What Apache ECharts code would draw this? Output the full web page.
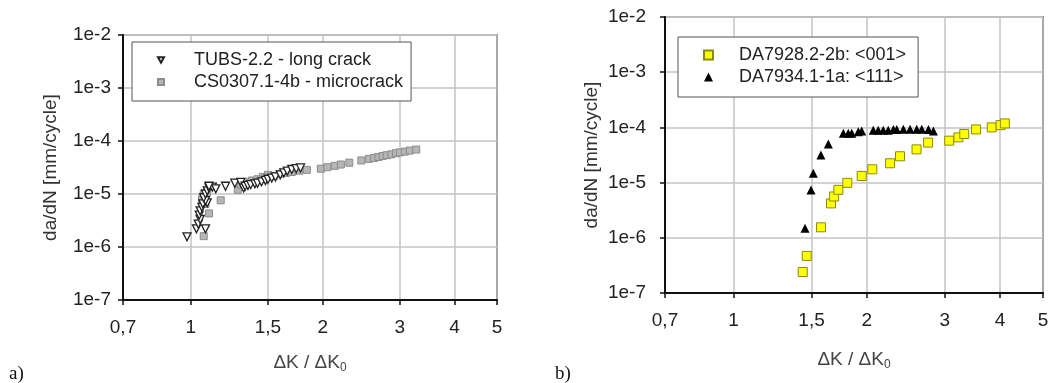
<!DOCTYPE html>
<html>
<head>
<meta charset="utf-8">
<script src="https://cdn.jsdelivr.net/npm/echarts@6/dist/echarts.min.js"></script>
<style>
  html, body { margin: 0; padding: 0; background: #fff; }
  #chart { width: 1053px; height: 383px; }
</style>
</head>
<body>
<div id="chart"></div>
<script>
// tick labels shared by both panels
const xTicks = [0.7, 1, 1.5, 2, 3, 4, 5]
const yMin = 1e-7
const yMax = 1e-2

// panel a) -- [dK/dK0, da/dN]
const tubsLong = [
  [0.98, 1.55e-6], [1.03, 2.2e-6], [1.04, 2.7e-6], [1.08, 2.2e-6], [1.05, 3.3e-6],
  [1.045, 4.0e-6], [1.05, 4.8e-6], [1.06, 5.6e-6], [1.065, 6.5e-6], [1.09, 6.8e-6],
  [1.08, 7.5e-6], [1.07, 8.5e-6], [1.08, 1.0e-5], [1.09, 1.15e-5], [1.1, 1.3e-5],
  [1.12, 1.35e-5], [1.14, 1.25e-5], [1.1, 1.4e-5], [1.2, 1.4e-5], [1.26, 1.6e-5],
  [1.3, 1.65e-5], [1.32, 1.3e-5], [1.33, 1.4e-5], [1.35, 1.45e-5], [1.37, 1.5e-5],
  [1.4, 1.55e-5], [1.42, 1.6e-5], [1.45, 1.7e-5], [1.48, 1.8e-5], [1.5, 1.9e-5],
  [1.53, 2.0e-5], [1.56, 2.1e-5], [1.6, 2.3e-5], [1.63, 2.5e-5], [1.66, 2.7e-5],
  [1.7, 2.9e-5], [1.74, 3.0e-5], [1.78, 3.1e-5]
]
const csMicro = [
  [1.07, 1.6e-6], [1.1, 4.3e-6], [1.08, 6.5e-6], [1.06, 8e-6], [1.07, 1.0e-5],
  [1.09, 1.1e-5], [1.17, 7.6e-6], [1.28, 1.2e-5], [1.3, 1.5e-5], [1.34, 1.7e-5],
  [1.38, 1.8e-5], [1.42, 1.9e-5], [1.46, 2.1e-5], [1.5, 2.3e-5], [1.55, 2.2e-5],
  [1.6, 2.4e-5], [1.65, 2.5e-5], [1.7, 2.6e-5], [1.77, 2.75e-5], [1.84, 2.85e-5],
  [1.98, 3.0e-5], [2.05, 3.2e-5], [2.13, 3.4e-5], [2.2, 3.6e-5], [2.3, 3.9e-5],
  [2.45, 4.3e-5], [2.55, 4.6e-5], [2.62, 4.8e-5], [2.68, 5.0e-5], [2.74, 5.2e-5],
  [2.8, 5.4e-5], [2.87, 5.6e-5], [2.94, 5.9e-5], [3.0, 6.1e-5], [3.08, 6.3e-5],
  [3.16, 6.6e-5], [3.27, 6.9e-5]
]

// panel b)
const da001 = [
  [1.433, 2.4e-7], [1.463, 4.7e-7], [1.576, 1.55e-6], [1.66, 4.2e-6], [1.687, 5.6e-6],
  [1.725, 7.4e-6], [1.807, 9.9e-6], [1.947, 1.32e-5], [2.058, 1.74e-5], [2.257, 2.24e-5],
  [2.377, 3.0e-5], [2.59, 4.0e-5], [2.75, 5.3e-5], [3.07, 5.75e-5], [3.22, 6.6e-5],
  [3.32, 7.6e-5], [3.53, 9.2e-5], [3.83, 1.0e-4], [4.01, 1.1e-4], [4.1, 1.18e-4]
]
const da111 = [
  [1.45, 1.49e-6], [1.496, 7.35e-6], [1.514, 1.47e-5], [1.575, 3.16e-5], [1.637, 5.0e-5],
  [1.77, 7.8e-5], [1.816, 7.8e-5], [1.849, 7.8e-5], [1.913, 8.3e-5], [1.947, 8.6e-5],
  [2.068, 8.9e-5], [2.122, 8.9e-5], [2.178, 8.9e-5], [2.236, 8.9e-5], [2.296, 9.2e-5],
  [2.337, 9.2e-5], [2.419, 9.3e-5], [2.504, 9.3e-5], [2.593, 9.3e-5], [2.661, 9.3e-5],
  [2.755, 9.2e-5], [2.827, 8.6e-5]
]

const fontFamily = 'Liberation Sans, Arial, sans-serif'
const lg = v => Math.log10(v)
// x axis is drawn on log10 values so the odd ticks (0,7 / 1,5 ...) can be placed
const toLogX = pts => pts.map(p => [lg(p[0]), p[1]])

function makeX (gridIndex, nameGap) {
  return {
    type: 'value',
    gridIndex: gridIndex,
    min: lg(xTicks[0]),
    max: lg(xTicks[xTicks.length - 1]),
    name: 'ΔK / ΔK{sub|0}',
    nameLocation: 'middle',
    nameGap: nameGap,
    nameTextStyle: {
      color: '#444',
      fontSize: 19,
      fontFamily: fontFamily,
      rich: {
        sub: { fontSize: 12, fontFamily: fontFamily, color: '#444', padding: [10, 0, 0, 0] }
      }
    },
    axisLine: { show: true, onZero: false, lineStyle: { color: '#111', width: 2 } },
    axisTick: {
      show: true,
      inside: false,
      length: 5,
      customValues: xTicks.map(lg),
      lineStyle: { color: '#111', width: 1.5 }
    },
    axisLabel: {
      customValues: xTicks.map(lg),
      margin: 18,
      color: '#222',
      fontSize: 19,
      fontFamily: fontFamily,
      formatter: v => String(Math.round(Math.pow(10, v) * 10) / 10).replace('.', ',')
    },
    splitLine: { show: true, lineStyle: { color: '#c4c4c4', width: 1.5 } }
  }
}

function makeY (gridIndex, nameGap, labelMargin) {
  return {
    type: 'log',
    logBase: 10,
    gridIndex: gridIndex,
    min: yMin,
    max: yMax,
    name: 'da/dN [mm/cycle]',
    nameLocation: 'middle',
    nameGap: nameGap,
    nameTextStyle: { color: '#333', fontSize: 19, fontFamily: fontFamily },
    axisLine: { show: true, onZero: false, lineStyle: { color: '#111', width: 2 } },
    axisTick: { show: true, inside: false, length: 5, lineStyle: { color: '#111', width: 1.5 } },
    axisLabel: {
      margin: labelMargin,
      color: '#222',
      fontSize: 19,
      fontFamily: fontFamily,
      formatter: v => '1e' + Math.round(Math.log10(v))
    },
    splitLine: { show: true, lineStyle: { color: '#c4c4c4', width: 1.5 } }
  }
}

function makeLegend (names, left, top, iconSize, gap, padding) {
  return {
    data: names,
    orient: 'vertical',
    left: left,
    top: top,
    padding: padding,
    itemWidth: iconSize,
    itemHeight: iconSize,
    itemGap: 0,
    borderColor: '#555',
    borderWidth: 1,
    backgroundColor: '#fff',
    formatter: name => '{g|}' + name,
    textStyle: {
      fontSize: 18,
      lineHeight: 22,
      fontFamily: fontFamily,
      color: '#222',
      rich: { g: { width: gap } }
    }
  }
}

const myChart = echarts.init(document.getElementById('chart'), null, { renderer: 'canvas' })

const option = {
  animation: false,
  backgroundColor: '#fff',
  title: [
    { text: 'a)', left: 4, top: 360, textStyle: { fontFamily: 'Liberation Serif, serif', fontSize: 19, fontWeight: 'normal', color: '#111' } },
    { text: 'b)', left: 550, top: 360, textStyle: { fontFamily: 'Liberation Serif, serif', fontSize: 19, fontWeight: 'normal', color: '#111' } }
  ],
  grid: [
    { left: 123, right: 556, top: 35, bottom: 83, show: true, borderColor: '#222', borderWidth: 1.5 },
    { left: 665, right: 10, top: 17, bottom: 90, show: true, borderColor: '#222', borderWidth: 1.5 }
  ],
  legend: [
    makeLegend(['TUBS-2.2 - long crack', 'CS0307.1-4b - microcrack'], 132, 42, 6, 25, [7, 8, 8, 25]),
    makeLegend(['DA7928.2-2b: <001>', 'DA7934.1-1a: <111>'], 678, 37, 9, 21, [7, 12, 9, 25])
  ],
  xAxis: [makeX(0, 52), makeX(1, 56)],
  yAxis: [makeY(0, 63, 12), makeY(1, 64, 19)],
  series: [
    {
      name: 'CS0307.1-4b - microcrack',
      type: 'scatter',
      xAxisIndex: 0,
      yAxisIndex: 0,
      symbol: 'rect',
      symbolSize: 7,
      itemStyle: { color: '#b6b6b6', borderColor: '#8c8c8c', borderWidth: 1, opacity: 1 },
      data: toLogX(csMicro)
    },
    {
      name: 'TUBS-2.2 - long crack',
      type: 'scatter',
      xAxisIndex: 0,
      yAxisIndex: 0,
      symbol: 'path://M0,0 L10,0 L5,9 Z',
      symbolSize: 8,
      itemStyle: { color: '#fff', borderColor: '#222', borderWidth: 1.3, opacity: 1 },
      data: toLogX(tubsLong)
    },
    {
      name: 'DA7928.2-2b: <001>',
      type: 'scatter',
      xAxisIndex: 1,
      yAxisIndex: 1,
      symbol: 'rect',
      symbolSize: 9,
      itemStyle: { color: '#ffff00', borderColor: '#8a8a10', borderWidth: 1, opacity: 1 },
      data: toLogX(da001)
    },
    {
      name: 'DA7934.1-1a: <111>',
      type: 'scatter',
      xAxisIndex: 1,
      yAxisIndex: 1,
      symbol: 'triangle',
      symbolSize: 9,
      itemStyle: { color: '#000', opacity: 1 },
      data: toLogX(da111)
    }
  ]
}

myChart.setOption(option, true)
myChart.resize()
</script>
</body>
</html>
